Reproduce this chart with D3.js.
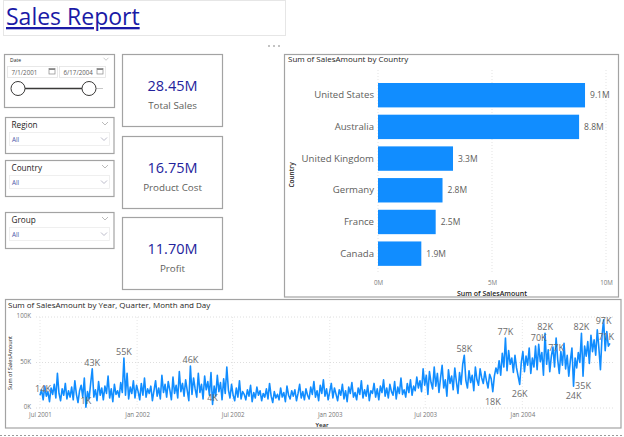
<!DOCTYPE html>
<html><head><meta charset="utf-8">
<script src="https://cdn.jsdelivr.net/npm/d3@7"></script>
<style>
body{margin:0;background:#fff;}
svg{display:block;font-family:'Open Sans','Noto Sans',sans-serif;}
</style></head><body>
<svg id="c" width="624" height="437"></svg>
<script>
// ---------- data ----------
const reportTitle = "Sales Report";
const kpiValues = ["28.45M", "16.75M", "11.70M"];
const kpiLabels = ["Total Sales", "Product Cost", "Profit"];
const slicerNames = ["Region", "Country", "Group"];
const slicerValue = "All";
const dateRange = ["7/1/2001", "6/17/2004"];

const countries = ["United States", "Australia", "United Kingdom", "Germany", "France", "Canada"];
const countrySales = [9.08, 8.82, 3.29, 2.83, 2.53, 1.90]; // millions
const barTicks = [0, 5, 10];

const seriesStart = "2001-07-01";
const seriesEnd = "2004-06-17";
const seriesStepDays = 3;
// Sum of SalesAmount (thousands)
const salesK = [
  14,20,9,24,13,18,7,22,15,26,
  11,38,16,8,21,14,27,10,19,12,
  23,9,30,15,6,19,25,12,33,1,
  18,10,27,43,12,20,8,29,14,22,
  9,24,16,35,11,21,7,26,15,19,
  12,28,17,55,14,38,10,23,16,30,
  11,25,18,9,27,14,33,12,21,16,
  24,8,19,30,13,22,10,36,17,26,
  12,29,20,9,34,16,25,11,40,18,
  27,13,31,19,8,46,15,33,21,12,
  38,17,26,10,35,20,29,14,39,4,
  24,13,36,18,28,9,32,16,45,20,
  11,26,14,8,22,12,30,10,18,15,
  9,20,13,25,7,17,11,23,14,19,
  8,16,12,21,10,27,13,6,18,11,
  15,9,22,12,17,7,24,14,10,19,
  13,20,8,16,26,11,18,9,21,14,
  10,23,15,29,12,19,8,25,16,31,
  13,21,9,18,27,11,22,15,8,20,
  14,26,10,19,7,23,16,28,12,17,
  9,22,15,30,11,20,13,25,8,19,
  16,27,12,21,9,24,17,31,13,22,
  11,26,18,14,29,10,23,16,33,15,
  20,12,27,17,31,14,24,19,34,22,
  30,18,43,25,36,15,40,28,21,45,
  24,38,17,33,47,22,31,13,42,27,
  35,20,44,29,16,39,26,48,58,30,
  22,41,28,36,19,45,31,25,43,33,
  27,40,30,22,37,32,18,35,44,38,
  52,36,60,45,77,41,63,48,55,39,
  58,44,35,26,50,62,40,57,47,66,
  38,55,45,68,42,70,51,61,36,82,
  48,64,40,57,67,45,77,53,38,62,
  47,71,43,58,35,52,66,24,55,44,
  61,50,82,35,68,57,73,49,80,62,
  75,58,86,66,42,79,97,63,84,68,
  71
];
const labelIdx = [0, 29, 33, 53, 95, 109, 268, 286, 294, 303, 315, 319, 326, 337, 342, 343, 356, 360];
const lineXTicks = ["2001-07-01", "2002-01-01", "2002-07-01", "2003-01-01", "2003-07-01", "2004-01-01"];
const lineYTicks = [0, 50, 100];

// ---------- drawing ----------
const svg = d3.select("#c");
const BORDER = "#a3a3a3";
const GRAY = "#605e5c";
const DARK = "#252423";
const BLUE = "#118DFF";

// Title box
svg.append("rect").attr("x", 3.5).attr("y", 0.5).attr("width", 282).attr("height", 35)
  .attr("fill", "#fff").attr("stroke", "#e6e6e6");
svg.append("text").attr("x", 6).attr("y", 25).attr("font-size", 23)
  .attr("fill", "#1a1aa6").attr("text-decoration", "underline").text(reportTitle);

// "..." menu
[269, 274, 279].forEach(cx => svg.append("circle").attr("cx", cx).attr("cy", 46).attr("r", 0.8).attr("fill", "#777"));

function chevron(g, cx, cy, w, col) {
  g.append("path").attr("d", `M${cx - w / 2},${cy - w / 4}L${cx},${cy + w / 4}L${cx + w / 2},${cy - w / 4}`)
    .attr("fill", "none").attr("stroke", col || "#9a9a9a").attr("stroke-width", 0.8);
}
function calIcon(g, x, y) {
  g.append("rect").attr("x", x).attr("y", y).attr("width", 6).attr("height", 5.5)
    .attr("fill", "none").attr("stroke", "#888").attr("stroke-width", 0.7);
  g.append("rect").attr("x", x).attr("y", y).attr("width", 6).attr("height", 1.5).attr("fill", "#888");
}

// Date slicer
const ds = svg.append("g");
ds.append("rect").attr("x", 4.5).attr("y", 54.5).attr("width", 110).attr("height", 53)
  .attr("fill", "#fff").attr("stroke", BORDER).attr("stroke-width", 1.2);
ds.append("text").attr("x", 10).attr("y", 62).attr("font-size", 5).attr("fill", DARK).text("Date");
chevron(ds, 106, 59, 5, "#bbb");
[[7.5, dateRange[0], 50], [59.5, dateRange[1], 46]].forEach(([x, t, w]) => {
  ds.append("rect").attr("x", x).attr("y", 66.5).attr("width", w).attr("height", 11)
    .attr("fill", "#fff").attr("stroke", "#e3e3e3").attr("stroke-width", 0.8);
  ds.append("text").attr("x", x + 4).attr("y", 74.5).attr("font-size", 6.2).attr("fill", GRAY).text(t);
  calIcon(ds, x + w - 8.5, 68.5);
});
ds.append("line").attr("x1", 96).attr("x2", 103).attr("y1", 88.5).attr("y2", 88.5).attr("stroke", "#c8c8c8").attr("stroke-width", 1);
ds.append("line").attr("x1", 18).attr("x2", 89).attr("y1", 88.5).attr("y2", 88.5).attr("stroke", "#3b3a39").attr("stroke-width", 1.4);
[18, 89].forEach(cx => ds.append("circle").attr("cx", cx).attr("cy", 88.5).attr("r", 7)
  .attr("fill", "#fff").attr("stroke", "#3b3a39").attr("stroke-width", 1));

// Dropdown slicers
const slicerY = [117, 160, 212];
slicerNames.forEach((name, i) => {
  const y0 = slicerY[i];
  const g = svg.append("g");
  g.append("rect").attr("x", 5.5).attr("y", y0 + 0.5).attr("width", 108.5).attr("height", 36)
    .attr("fill", "#fff").attr("stroke", BORDER).attr("stroke-width", 1.2);
  g.append("text").attr("x", 11.5).attr("y", y0 + 11).attr("font-size", 8.2).attr("fill", DARK).text(name);
  chevron(g, 105, y0 + 6.5, 6, "#aaa");
  g.append("rect").attr("x", 9.5).attr("y", y0 + 15.5).attr("width", 100).attr("height", 13)
    .attr("fill", "#fff").attr("stroke", "#ececec").attr("stroke-width", 0.8);
  g.append("text").attr("x", 12).attr("y", y0 + 24.5).attr("font-size", 6.3).attr("fill", "#4b56a8").text(slicerValue);
  chevron(g, 104, y0 + 22, 6, "#aab");
});

// KPI cards
const cardY = [54, 136, 217];
kpiValues.forEach((v, i) => {
  const y0 = cardY[i];
  const g = svg.append("g");
  g.append("rect").attr("x", 122.5).attr("y", y0 + 0.5).attr("width", 100).attr("height", 72)
    .attr("fill", "#fff").attr("stroke", BORDER).attr("stroke-width", 1.2);
  g.append("text").attr("x", 172.5).attr("y", y0 + 37).attr("text-anchor", "middle")
    .attr("font-size", 14.5).attr("fill", "#23239c").text(v);
  g.append("text").attr("x", 172.5).attr("y", y0 + 54.5).attr("text-anchor", "middle")
    .attr("font-size", 9.8).attr("fill", GRAY).text(kpiLabels[i]);
});

// ---------- Bar chart ----------
const bc = svg.append("g");
bc.append("rect").attr("x", 284.5).attr("y", 54.5).attr("width", 334).attr("height", 242.5)
  .attr("fill", "#fff").attr("stroke", BORDER).attr("stroke-width", 1.2);
bc.append("text").attr("x", 288).attr("y", 62).attr("font-size", 8)
  .attr("fill", DARK).text("Sum of SalesAmount by Country");

const bx = d3.scaleLinear().domain([0, 10]).range([378, 606]);
const by = d3.scaleBand().domain(countries).range([79.35, 269.5]).paddingInner(0.23).paddingOuter(0.115);

bc.selectAll(".bgrid").data(barTicks).join("line")
  .attr("x1", d => bx(d)).attr("x2", d => bx(d)).attr("y1", 70).attr("y2", 272)
  .attr("stroke", "#dcdcdc").attr("stroke-width", 0.8).attr("stroke-dasharray", "1,2");

bc.selectAll(".bar").data(countries).join("rect")
  .attr("x", bx(0)).attr("y", d => by(d))
  .attr("width", (d, i) => bx(countrySales[i]) - bx(0)).attr("height", by.bandwidth())
  .attr("fill", BLUE);

bc.selectAll(".blab").data(countries).join("text")
  .attr("x", (d, i) => bx(countrySales[i]) + 5).attr("y", d => by(d) + by.bandwidth() / 2)
  .attr("dy", "0.35em").attr("font-size", 8.5).attr("fill", GRAY)
  .text((d, i) => d3.format(".1f")(countrySales[i]) + "M");

const byAxis = bc.append("g").attr("transform", "translate(378,0)")
  .call(d3.axisLeft(by).tickSize(0).tickPadding(4));
byAxis.select(".domain").remove();
byAxis.selectAll("text").attr("font-size", 9.6).attr("fill", GRAY).attr("font-family", "'Open Sans',sans-serif");

const bxAxis = bc.append("g").attr("transform", "translate(0,280)")
  .call(d3.axisBottom(bx).tickValues(barTicks).tickFormat(d => d + "M").tickSize(0).tickPadding(1));
bxAxis.select(".domain").remove();
bxAxis.selectAll("text").attr("font-size", 6.2).attr("fill", "#777").attr("font-family", "'Open Sans',sans-serif");

bc.append("text").attr("x", 492).attr("y", 296).attr("text-anchor", "middle").attr("font-size", 7)
  .attr("font-weight", 600).attr("fill", DARK).text("Sum of SalesAmount");
bc.append("text").attr("transform", "translate(294,175) rotate(-90)").attr("text-anchor", "middle")
  .attr("font-size", 6.5).attr("font-weight", 600).attr("fill", DARK).text("Country");

// ---------- Line chart ----------
const lc = svg.append("g");
lc.append("rect").attr("x", 5.5).attr("y", 299.5).attr("width", 615.5).attr("height", 128.5)
  .attr("fill", "#fff").attr("stroke", BORDER).attr("stroke-width", 1.2);
lc.append("text").attr("x", 8).attr("y", 308).attr("font-size", 8)
  .attr("fill", DARK).text("Sum of SalesAmount by Year, Quarter, Month and Day");

const parse = d3.utcParse("%Y-%m-%d");
const t0 = parse(seriesStart);
const lx = d3.scaleUtc().domain([t0, parse(seriesEnd)]).range([40, 611]);
const ly = d3.scaleLinear().domain([0, 100]).range([408, 317]);
const pts = salesK.map((v, i) => ({ d: d3.utcDay.offset(t0, i * seriesStepDays), v, i }));
const xTickDates = lineXTicks.map(parse);

lc.selectAll(".hg").data(lineYTicks).join("line")
  .attr("x1", 36).attr("x2", 615).attr("y1", d => ly(d)).attr("y2", d => ly(d))
  .attr("stroke", "#d6d6d6").attr("stroke-width", 0.8).attr("stroke-dasharray", "1,2");
lc.selectAll(".vg").data(xTickDates).join("line")
  .attr("x1", d => lx(d)).attr("x2", d => lx(d)).attr("y1", ly(100)).attr("y2", ly(0))
  .attr("stroke", "#e0e0e0").attr("stroke-width", 0.8).attr("stroke-dasharray", "1,2");

const yAx = lc.append("g").attr("transform", "translate(33,-1)")
  .call(d3.axisLeft(ly).tickValues(lineYTicks).tickFormat(d => d + "K").tickSize(0).tickPadding(2));
yAx.select(".domain").remove();
yAx.selectAll("text").attr("font-size", 6.2).attr("fill", "#777").attr("font-family", "'Open Sans',sans-serif");

const xAx = lc.append("g").attr("transform", "translate(0,412)")
  .call(d3.axisBottom(lx).tickValues(xTickDates).tickFormat(d3.utcFormat("%b %Y")).tickSize(0).tickPadding(1));
xAx.select(".domain").remove();
xAx.selectAll("text").attr("font-size", 6.2).attr("fill", "#777").attr("font-family", "'Open Sans',sans-serif");

lc.append("text").attr("x", 322).attr("y", 426.5).attr("text-anchor", "middle").attr("font-size", 6)
  .attr("font-weight", 600).attr("fill", DARK).text("Year");
lc.append("text").attr("transform", "translate(12,363) rotate(-90)").attr("text-anchor", "middle")
  .attr("font-size", 5.6).attr("fill", DARK).text("Sum of SalesAmount");

lc.append("path").datum(pts)
  .attr("d", d3.line().x(p => lx(p.d)).y(p => ly(p.v)))
  .attr("fill", "none").attr("stroke", BLUE).attr("stroke-width", 1.6).attr("stroke-linejoin", "round");

// data labels (flip below on collision)
const placed = [];
const LH = 7;
labelIdx.forEach(i => {
  const p = pts[i];
  const prev = i > 0 ? salesK[i - 1] : -Infinity;
  const next = i < salesK.length - 1 ? salesK[i + 1] : -Infinity;
  const isMax = p.v >= prev && p.v >= next;
  const t = lc.append("text").attr("text-anchor", "middle").attr("font-size", 9)
    .attr("fill", "#6b6b6b").text(p.v + "K");
  const w = t.node().getComputedTextLength();
  let xc = lx(p.d) + (i === 0 ? 3 : 0);
  xc = Math.min(xc, 614 - w / 2);
  const above = () => Math.max(ly(p.v) - 3, ly(100) + 7);
  const below = () => ly(p.v) + 13;
  let yb = (isMax || ly(p.v) + 13 > ly(0)) ? above() : below();
  const hits = y => placed.some(b => Math.abs(b.x - xc) < (b.w + w) / 2 && Math.abs(b.y - y) < LH);
  if (hits(yb)) yb = (yb === below()) ? above() : below();
  placed.push({ x: xc, y: yb, w });
  t.attr("x", xc).attr("y", yb);
});

// bottom dotted separator
svg.append("line").attr("x1", 0).attr("x2", 624).attr("y1", 435.5).attr("y2", 435.5)
  .attr("stroke", "#9a9a9a").attr("stroke-width", 1).attr("stroke-dasharray", "2,2");
</script>
</body></html>
